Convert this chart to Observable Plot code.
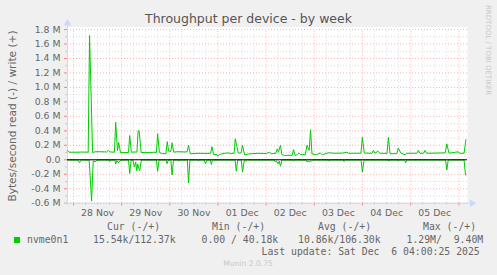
<!DOCTYPE html>
<html><head><meta charset="utf-8">
<script src="https://cdn.jsdelivr.net/npm/d3@7"></script>
<script src="https://cdn.jsdelivr.net/npm/@observablehq/plot@0.6"></script>
<style>
html,body{margin:0;padding:0;background:#f0f0f0;}
svg{display:block}
</style>
</head><body><div id="chart"></div>
<script>
// hours since 28 Nov 2025 00:00, values in kB/s
const writeHours = [-3.0,-2.3,1,4,7.3,8.0,9.5,10.5,13.5,16.5,17.3,18.5,20.4,21.0,21.9,22.5,23.4,27.4,28.0,28.8,31.6,32.2,32.7,33.7,36,38,40,41.3,41.9,42.8,44.5,46.0,46.7,47.4,48.5,49.1,49.9,52,55,56.6,57.3,58.2,62,66,68.3,69.0,69.8,71.5,72.0,72.8,75,77,78,80.0,80.6,82.1,83.5,84.2,85.2,88,92,96,97.5,98.5,100.8,101.5,102.1,103.1,103.8,105,109.0,109.6,110.4,111.5,112.4,113.2,115.5,116.3,117.4,118.1,118.8,121,123,124,127.0,130,134,136.2,137,143.2,143.9,144.9,148.7,149.4,150.2,151.6,152.7,156.2,156.9,157.7,161.1,161.8,163.2,165.2,166.0,171.1,171.8,172.6,174.4,175.1,176.0,185.2,186.0,187.1,191.5,192.5,194.6,195.5];
const writeK = [128,105,104,107,105,1717,100,110,112,108,130,108,105,520,125,240,100,100,335,105,108,400,400,100,102,98,104,100,360,98,85,82,250,120,115,235,106,112,108,110,200,83,90,88,90,180,74,70,50,75,88,95,88,90,290,92,95,200,68,83,90,86,105,84,90,150,105,200,74,60,62,140,60,70,92,72,70,200,130,415,83,70,92,70,97,90,92,105,90,90,310,92,90,130,90,120,90,88,310,83,85,160,90,70,90,90,130,90,90,130,90,95,220,90,110,90,90,277];
const readHours = [-3.0,2.2,3.0,3.8,7.8,9.0,9.8,10.8,11.6,17.5,18.0,18.6,20.6,21.0,21.6,22.3,23.0,23.6,27.4,28.0,28.7,29.6,30.3,31.0,31.5,32.0,32.5,33.0,33.8,41.3,41.9,42.6,46.1,46.6,47.2,48.5,49.1,49.8,52.0,52.4,52.9,56.7,57.3,58.0,61.8,62.3,62.8,65.2,65.7,66.5,68.2,68.7,69.2,80.5,81.1,81.8,83.6,84.2,85.1,86,86.6,100.0,100.5,101.1,101.8,102.5,103.1,103.8,109.1,109.6,110.1,116.0,116.4,117.0,117.4,118.0,118.4,119.0,127.0,127.4,127.9,134.4,134.8,135.3,143.3,143.9,144.8,156.8,157.2,157.7,161.4,161.8,162.3,165.0,165.5,166.2,185.4,186.0,186.7,194.6,195.3];
const readK = [4,4,40,4,4,570,15,30,4,4,25,4,4,60,15,40,25,4,4,190,4,4,100,30,150,60,120,150,4,4,160,4,4,55,4,4,210,4,4,20,4,4,320,4,4,20,4,4,55,4,4,65,4,4,157,4,4,170,4,20,4,4,30,15,55,20,88,4,4,20,4,4,30,15,30,15,25,4,4,20,4,4,25,4,4,170,4,4,20,4,4,20,4,4,40,4,4,140,4,4,210];

const dayLabels = ["28 Nov","29 Nov","30 Nov","01 Dec","02 Dec","03 Dec","04 Dec","05 Dec"];
const yTicks = [-600,-400,-200,0,200,400,600,800,1000,1200,1400,1600,1800];
const yMinor = [-500,-300,-100,100,300,500,700,900,1100,1300,1500,1700];
const midnights = [0,24,48,72,96,120,144,168,192];
const sixHours = d3.range(-3,197).filter(h => h % 6 === 0 && h % 24 !== 0);

const writeData = writeHours.map((h,i)=>({h, v: writeK[i]}));
const readData = readHours.map((h,i)=>({h, v: -readK[i]}));

const X0 = -3, X1 = 196.3, Y0 = -600, Y1 = 1832;
const axisCol = "#CFD6F8";
const gridRed = "rgba(255,0,0,0.3)";
const gridGray = "rgba(160,160,160,0.38)";

const chart = Plot.plot({
  width: 497, height: 275,
  marginLeft: 67, marginRight: 30, marginTop: 26.7, marginBottom: 72.3,
  style: {background: "#f0f0f0", fontFamily: "DejaVu Sans", fontSize: "9.33px", color: "#666", overflow: "visible"},
  x: {type: "linear", domain: [X0, X1], axis: null},
  y: {domain: [Y0, Y1], axis: null},
  marks: [
    Plot.frame({fill: "white", stroke: "none"}),
    Plot.ruleX(sixHours, {stroke: gridGray, strokeDasharray: "1,2", y1: Y0, y2: Y1 - 32}),
    Plot.ruleY(yMinor, {stroke: gridGray, strokeDasharray: "1,2", x1: X0, x2: X1}),
    Plot.ruleX(midnights, {stroke: gridRed, strokeDasharray: "1,2", y1: Y0, y2: Y1 - 32}),
    Plot.ruleY(yTicks, {stroke: gridRed, strokeDasharray: "1,2", x1: X0, x2: X1}),
    Plot.ruleX(midnights, {stroke: "rgba(255,0,0,0.45)", y1: Y0 - 40, y2: Y0}),
    Plot.ruleX(sixHours, {stroke: "rgba(150,150,150,0.45)", y1: Y0 - 25, y2: Y0}),
    Plot.ruleY(yTicks, {stroke: "rgba(255,0,0,0.45)", x1: X0 - 1.5, x2: X0}),
    Plot.ruleY(yMinor, {stroke: "rgba(150,150,150,0.45)", x1: X0 - 1, x2: X0}),
    Plot.ruleX([X0], {stroke: axisCol, y1: Y0 - 30, y2: Y1 + 40}),
    Plot.ruleY([Y0], {stroke: axisCol, x1: X0 - 1.5, x2: X1 + 1.8}),
    Plot.dot([0], {x: X0, y: Y1 + 55, symbol: "triangle", r: 2.8, fill: axisCol, stroke: "none"}),
    Plot.dot([0], {x: X1 + 2.3, y: Y0, symbol: "triangle", r: 2.8, fill: axisCol, stroke: "none", rotate: 90}),
    Plot.line(readData, {x: "h", y: "v", stroke: "#00cc00", strokeWidth: 1}),
    Plot.ruleY([0], {stroke: "#000", x1: X0, x2: X1}),
    Plot.line(writeData, {x: "h", y: "v", stroke: "#00cc00", strokeWidth: 1}),
    Plot.text(yTicks, {x: X0, y: d => d, text: d => d === 0 ? "0.0" : (d/1000).toFixed(1) + " M", textAnchor: "end", dx: -7, fill: "#666"}),
    Plot.text(dayLabels, {x: (d,i) => 12 + 24*i, y: Y0, text: d => d, dy: 10, fill: "#666"})
  ]
});

const svg = d3.select(chart);
const add = (x, y, txt, o = {}) => svg.append("text")
  .attr("x", x).attr("y", y).text(txt)
  .attr("fill", o.fill || "#666")
  .attr("font-family", o.font || "DejaVu Sans")
  .attr("font-size", o.size || "9.33px")
  .attr("text-anchor", o.anchor || "start")
  .attr("transform", o.transform || null)
  .style("white-space", "pre");

add(248.5, 23, "Throughput per device - by week", {size: "12.5px", anchor: "middle", fill: "#555"});
add(0, 0, "Bytes/second read (-) / write (+)", {size: "10.6px", anchor: "middle", transform: "translate(16,116) rotate(-90)"});
add(0, 0, "RRDTOOL / TOBI OETIKER", {size: "7px", fill: "#c8c8c8", transform: "translate(486,5) rotate(90)"});

const mono = {font: "DejaVu Sans Mono", size: "9.8px"};
add(107, 230, "Cur (-/+)", mono);
add(212, 230, "Min (-/+)", mono);
add(318, 230, "Avg (-/+)", mono);
add(423, 230, "Max (-/+)", mono);
svg.append("rect").attr("x", 14).attr("y", 237).attr("width", 6).attr("height", 6).attr("fill", "#00cc00");
add(27, 243, "nvme0n1", mono);
add(93, 243, "15.54k/112.37k", mono);
add(201.5, 243, "0.00 / 40.18k", mono);
add(298, 243, "10.86k/106.30k", mono);
add(406.5, 243, "1.29M/  9.40M", mono);
add(261.5, 255, "Last update: Sat Dec  6 04:00:25 2025", mono);
add(248, 266, "Munin 2.0.75", {size: "7.6px", fill: "#c8c8c8", anchor: "middle"});

document.getElementById("chart").appendChild(chart);
</script>
</body></html>
